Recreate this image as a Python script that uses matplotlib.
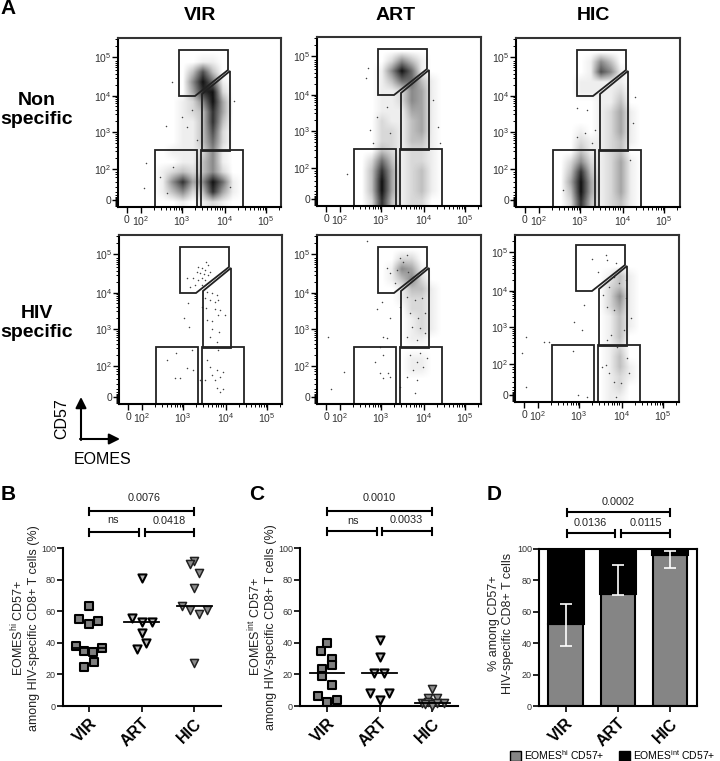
import matplotlib
matplotlib.use("Agg")
import matplotlib.pyplot as plt
import numpy as np
from matplotlib.patches import Patch, Polygon

plt.rcParams["font.family"] = ["Liberation Sans", "DejaVu Sans"]
plt.rcParams["mathtext.default"] = "regular"

W, H = 720, 761
groups = ["VIR", "ART", "HIC"]

# flow plots: axis channels, ticks
flow_xticks = [9, 23, 64, 107, 148]
flow_yticks = [7, 38, 75, 111, 150]
flow_xlabels = ["0", "$10^{2}$", "$10^{3}$", "$10^{4}$", "$10^{5}$"]
flow_ylabels = ["0", "$10^{2}$", "$10^{3}$", "$10^{4}$", "$10^{5}$"]

gate_hi = [(61, 157), (110, 157), (110, 137), (77, 111), (61, 111)]
gate_int = [(84, 56), (112, 56), (112, 136), (84, 113)]
gate_low_left = [(37, 0), (79, 0), (79, 57), (37, 57)]
gate_low_right = [(83, 0), (125, 0), (125, 57), (83, 57)]

# dot density, columns at 25..125, rows from 155 down to 5
dens_vir_ns = ["00000000000", "00000011000", "00000373000", "00000596100", "00000489200",
               "00001259400", "00001238400", "00001138300", "00001137200", "00001136200",
               "00011125100", "00001135100", "00123235200", "00158459610", "00135238410",
               "00001012100"]
dens_art_ns = ["00000000000", "00000253100", "00001596100", "00001366310", "00001125410",
               "00001125410", "00001114410", "00002113410", "00002213410", "00002213310",
               "00003212210", "00026312210", "00038412310", "00039412310", "00039412310",
               "00028312200"]
dens_hic_ns = ["00000000000", "00000153000", "00000175100", "00001111100", "00001111200",
               "00000011300", "00000012410", "00000012410", "00001012410", "00002112310",
               "00003112300", "00025212410", "00038312410", "00049412410", "00039412410",
               "00028312310"]
dens_vir_hs = ["00000000000"] * 16
dens_art_hs = ["00000000000", "00000022000", "00000154100", "00000135200", "00000013310",
               "00000012210", "00000002210", "00000001210", "00000001210", "00000001100",
               "00000000000", "00000001100", "00000001100", "00000000000", "00000000000",
               "00000000000"]
dens_hic_hs = ["00000000000", "00000000000", "00000000000", "00000001310", "00000002310",
               "00000002510", "00000002410", "00000001310", "00000001310", "00000001300",
               "00000001200", "00000001300", "00000001310", "00000001210", "00000001200",
               "00000001100"]

# single dots
out_vir_x = [54, 48, 28, 26, 116, 64, 74, 69, 79, 55, 42, 49, 112]
out_vir_y = [125, 81, 44, 19, 106, 90, 97, 80, 67, 40, 30, 14, 20]
out_art_x = [49, 51, 123, 30, 53, 60, 70, 73, 121, 116, 56]
out_art_y = [128, 138, 63, 32, 76, 89, 99, 73, 79, 106, 63]
out_hic_x = [119, 61, 71, 69, 61, 76, 47, 117, 79, 114]
out_hic_y = [110, 99, 97, 74, 70, 64, 17, 84, 77, 47]

dots_vir_x = [87, 89, 79, 83, 86, 78, 81, 85, 89, 83, 74, 68, 79, 86, 91, 76, 83, 71, 88, 93,
              98, 86, 91, 96, 99, 69, 83, 87, 96, 101, 106, 65, 88, 93, 99, 70, 93, 100, 91, 98,
              48, 57, 68, 74, 56, 61, 88, 91, 98, 104, 93, 101, 96, 86, 98, 104, 101, 81, 99, 73]
dots_vir_y = [142, 139, 137, 136, 134, 132, 131, 130, 129, 126, 126, 126, 124, 124, 132, 119, 119, 117, 112, 111,
              109, 106, 104, 102, 104, 101, 97, 96, 95, 94, 89, 86, 84, 83, 89, 77, 75, 72, 67, 62,
              44, 51, 36, 34, 26, 26, 44, 37, 34, 32, 29, 27, 24, 24, 16, 15, 12, 24, 54, 54]
dots_art_x = [50, 11, 27, 14, 65, 60, 73, 66, 70, 63, 58, 66, 63, 71, 66, 73, 83, 90, 98, 105,
              93, 101, 108, 95, 103, 108, 90, 100, 93, 103, 100, 106, 96, 110, 90, 100, 98, 83, 80, 86,
              91, 73, 96, 70, 78, 90, 83]
dots_art_y = [163, 67, 32, 15, 102, 95, 86, 67, 66, 57, 42, 49, 31, 31, 26, 27, 97, 107, 104, 106,
              91, 86, 91, 77, 76, 71, 67, 64, 49, 51, 42, 37, 34, 46, 27, 24, 11, 17, 134, 142,
              132, 131, 127, 136, 121, 149, 146]
dots_hic_x = [77, 91, 83, 92, 101, 69, 59, 67, 29, 34, 11, 7, 11, 63, 72, 58, 88, 94, 99, 92,
              116, 96, 92, 91, 87, 94, 99, 101, 114, 112, 106, 102, 109, 111, 104, 99, 111]
dots_hic_y = [143, 147, 130, 142, 139, 97, 80, 72, 60, 60, 65, 49, 15, 7, 5, 51, 107, 115, 125, 95,
              84, 67, 62, 37, 35, 29, 20, 5, 29, 44, 19, 55, 72, 104, 119, 92, 122]

# panel B
b_vir_x = [0, -0.19, -0.01, 0.17, -0.25, 0.24, -0.10, 0.08, 0.09, -0.10]
b_vir_y = [63, 55, 52, 53.5, 38, 37, 35, 34, 28, 25]
b_art_x = [1.0, 0.82, 1.0, 1.19, 1.0, 1.09, 0.91]
b_art_y = [81, 56, 53, 53, 46, 40, 36]
b_hic_x = [2.0, 1.92, 2.10, 2.0, 1.76, 1.92, 2.10, 2.25, 2.0]
b_hic_y = [91.5, 90, 84, 74.5, 63, 61, 58.5, 61, 27]
b_means = [37, 53, 63]

# panel C
c_vir_x = [0, -0.11, 0.10, 0.09, -0.10, -0.10, 0.09, -0.18, 0, 0.18]
c_vir_y = [40, 35, 29.5, 26, 23.5, 19, 13, 6.5, 2.5, 3.5]
c_art_x = [1, 1, 0.90, 1.09, 0.82, 1.18, 1]
c_art_y = [42, 31, 21, 21, 8, 8, 3.5]
c_hic_x = [2, 1.92, 2.10, 1.81, 1.92, 2, 2, 2.10, 2.22, 1.86]
c_hic_y = [11, 5, 5, 2, 2.5, 1, 0, 2, 2, 1]
c_means = [21, 21, 2]

# panel D
d_hi = [52.5, 71.5, 96]
d_int = [47.5, 28.5, 4]
d_err_low = [38, 70.5, 88]
d_err_high = [65, 90, 98.5]

fig = plt.figure(figsize=(W / 100, H / 100), dpi=100)


def px_axes(left, top, right, bottom):
    return fig.add_axes([left / W, 1 - bottom / H, (right - left) / W, (bottom - top) / H])


# overlay in pixel units for the loose labels, arrows and brackets
ov = fig.add_axes([0, 0, 1, 1], zorder=5)
ov.set_xlim(0, W)
ov.set_ylim(H, 0)
ov.axis("off")
ov.patch.set_alpha(0)


def flow_panel(box, dens, dots):
    ax = px_axes(*box)
    grid = np.array([[int(c) for c in row] for row in dens], dtype=float)
    ax.imshow(grid ** 1.2, extent=(20, 130, 0, 160), cmap="gray_r", vmin=0, vmax=15,
              interpolation="bilinear", aspect="auto")
    ax.scatter(dots[0], dots[1], s=1.2, c="#444444", linewidths=0)
    for g in [gate_hi, gate_int, gate_low_left, gate_low_right]:
        ax.add_patch(Polygon(g, closed=True, fill=False, ec="#222222", lw=1.3, clip_on=False))
    ax.set_xlim(0, box[2] - box[0])
    ax.set_ylim(0, box[3] - box[1])
    ax.set_xticks(flow_xticks, flow_xlabels, fontsize=7.5, color="#333333")
    ax.set_yticks(flow_yticks, flow_ylabels, fontsize=7.5, color="#333333")
    ax.tick_params(axis="x", length=4, width=1, pad=1.5)
    ax.tick_params(axis="y", length=4, width=1, pad=0.5)
    minor_x = [m + 42 * np.log10(k) for m in flow_xticks[1:] for k in range(2, 10)]
    minor_y = [m + 37 * np.log10(k) for m in flow_yticks[1:] for k in range(2, 10)]
    minor_y += [1, 2, 3, 4, 5, 6, 8, 9, 10, 12, 15, 20, 25, 30, 33, 35]
    ax.set_xticks([m for m in minor_x if m < box[2] - box[0]], minor=True)
    ax.set_yticks([m for m in minor_y if m < box[3] - box[1]], minor=True)
    ax.tick_params(axis="both", which="minor", length=2.5, width=0.7)
    for s in ["top", "right"]:
        ax.spines[s].set_linewidth(1.5)
        ax.spines[s].set_color("#333333")
    for s in ["left", "bottom"]:
        ax.spines[s].set_linewidth(1.5)
    return ax


flow_panel((118, 38, 281, 207), dens_vir_ns, (out_vir_x, out_vir_y))
flow_panel((317, 37, 481, 206), dens_art_ns, (out_art_x, out_art_y))
flow_panel((516, 38, 680, 207), dens_hic_ns, (out_hic_x, out_hic_y))
flow_panel((119, 235, 282, 404), dens_vir_hs, (dots_vir_x, dots_vir_y))
flow_panel((317, 235, 481, 404), dens_art_hs, (dots_art_x, dots_art_y))
flow_panel((515, 235, 679, 402), dens_hic_hs, (dots_hic_x, dots_hic_y))

for name, x in zip(groups, [200, 396, 593]):
    ov.text(x, 16, name, ha="center", va="center", fontsize=14, fontweight="bold")
ov.text(37, 110, "Non\nspecific", ha="center", va="center", fontsize=14, fontweight="bold", linespacing=1.1)
ov.text(37, 323, "HIV\nspecific", ha="center", va="center", fontsize=14, fontweight="bold", linespacing=1.1)
for letter, x, y in [("A", 8, 9), ("B", 8, 494), ("C", 257, 494), ("D", 494, 495)]:
    ov.text(x, y, letter, ha="center", va="center", fontsize=15, fontweight="bold")

ov.annotate("", xy=(81, 397), xytext=(81, 440), arrowprops=dict(arrowstyle="-|>", lw=1.5, color="k", shrinkA=0, shrinkB=0, mutation_scale=16))
ov.annotate("", xy=(120, 439), xytext=(80, 439), arrowprops=dict(arrowstyle="-|>", lw=1.5, color="k", shrinkA=0, shrinkB=0, mutation_scale=16))
ov.text(62, 419, "CD57", rotation=90, ha="center", va="center", fontsize=11.5)
ov.text(103, 460, "EOMES", ha="center", va="center", fontsize=11.5)


def bracket(x0, x1, y):
    ov.plot([x0, x1], [y, y], color="k", lw=1.5, solid_capstyle="butt")
    ov.plot([x0, x0], [y - 3.5, y + 3.5], color="k", lw=1.5)
    ov.plot([x1, x1], [y - 3.5, y + 3.5], color="k", lw=1.5)


def group_axis(box, xlim):
    ax = px_axes(*box)
    ax.set_xlim(*xlim)
    ax.set_ylim(0, 100)
    ax.set_yticks([0, 20, 40, 60, 80, 100])
    ax.tick_params(axis="y", labelsize=6.5, labelcolor="#333333", length=4, width=1.2, pad=1)
    ax.set_xticks([0, 1, 2])
    ax.set_xticklabels(groups, rotation=45, ha="right", rotation_mode="anchor", fontsize=11.5, fontweight="bold")
    ax.tick_params(axis="x", length=4, width=1.2, pad=3)
    return ax


def dots_panel(box, xlim, series, means):
    ax = group_axis(box, xlim)
    ax.spines[["top", "right"]].set_visible(False)
    ax.spines[["left", "bottom"]].set_linewidth(1.5)
    for (xs, ys), m, fc, ec, lw in zip(series, ["s", "v", "v"],
                                       ["#7f7f7f", "#b8b8b8", "#8c8c8c"], ["k", "k", "#222222"], [1.5, 1.5, 1.1]):
        ax.scatter(xs, ys, marker=m, s=38 if m == "s" else 34, facecolor=fc, edgecolor=ec, linewidths=lw, zorder=3, clip_on=False)
    for i, v in enumerate(means):
        ax.plot([i - 0.33, i + 0.33], [v, v], color="k", lw=1.3, zorder=4)
    return ax


dots_panel((63, 548, 221, 706), (-0.495, 2.51),
           [(b_vir_x, b_vir_y), (b_art_x, b_art_y), (b_hic_x, b_hic_y)], b_means)
dots_panel((300, 548, 458, 706), (-0.515, 2.49),
           [(c_vir_x, c_vir_y), (c_art_x, c_art_y), (c_hic_x, c_hic_y)], c_means)

ov.text(25, 628, "EOMES$^{hi}$ CD57+\namong HIV-specific CD8+ T cells (%)", rotation=90,
        ha="center", va="center", fontsize=9, color="#222222", linespacing=1.2)
ov.text(262, 627, "EOMES$^{int}$ CD57+\namong HIV-specific CD8+ T cells (%)", rotation=90,
        ha="center", va="center", fontsize=9, color="#222222", linespacing=1.2)
ov.text(501, 623, "% among CD57+\nHIV-specific CD8+ T cells", rotation=90,
        ha="center", va="center", fontsize=9, color="#222222", linespacing=1.25)

# panel D stacked bars
ax = group_axis((539, 549, 697, 706), (-0.51, 2.52))
pos = np.arange(3)
ax.bar(pos, d_hi, width=0.66, color="#858585", edgecolor="k", lw=1.5)
ax.bar(pos, d_int, bottom=d_hi, width=0.69, color="k", edgecolor="k", lw=1.5)
yerr = [np.array(d_hi) - np.array(d_err_low), np.array(d_err_high) - np.array(d_hi)]
ax.errorbar(pos, d_hi, yerr=yerr, fmt="none", ecolor="white", elinewidth=1.2, capsize=4, capthick=1.2, zorder=5)
ax.spines[:].set_linewidth(1.5)

bracket(89, 194, 511)
bracket(89, 139, 532)
bracket(145, 194, 532)
ov.text(144, 498, "0.0076", ha="center", va="center", fontsize=7.8, color="#222222")
ov.text(113, 520, "ns", ha="center", va="center", fontsize=7.8, color="#222222")
ov.text(169, 521, "0.0418", ha="center", va="center", fontsize=7.8, color="#222222")

bracket(327, 432, 511)
bracket(327, 377, 531)
bracket(382, 432, 531)
ov.text(379, 498, "0.0010", ha="center", va="center", fontsize=7.8, color="#222222")
ov.text(353, 521, "ns", ha="center", va="center", fontsize=7.8, color="#222222")
ov.text(406, 520, "0.0033", ha="center", va="center", fontsize=7.8, color="#222222")

bracket(567, 670, 512)
bracket(567, 615, 533)
bracket(621, 670, 533)
ov.text(618, 502, "0.0002", ha="center", va="center", fontsize=7.8, color="#222222")
ov.text(590, 523, "0.0136", ha="center", va="center", fontsize=7.8, color="#222222")
ov.text(646, 523, "0.0115", ha="center", va="center", fontsize=7.8, color="#222222")

handles = [Patch(facecolor="#858585", edgecolor="k", label="EOMES$^{hi}$ CD57+"),
           Patch(facecolor="k", edgecolor="k", label="EOMES$^{int}$ CD57+")]
fig.legend(handles=handles, ncol=2, frameon=False, fontsize=7.5, loc="center left",
           bbox_to_anchor=(510 / W, 1 - 755 / H), handlelength=1.1, handleheight=1.1,
           handletextpad=0.25, columnspacing=1.4, borderpad=0, borderaxespad=0)

fig.savefig("out.png", dpi=100)
